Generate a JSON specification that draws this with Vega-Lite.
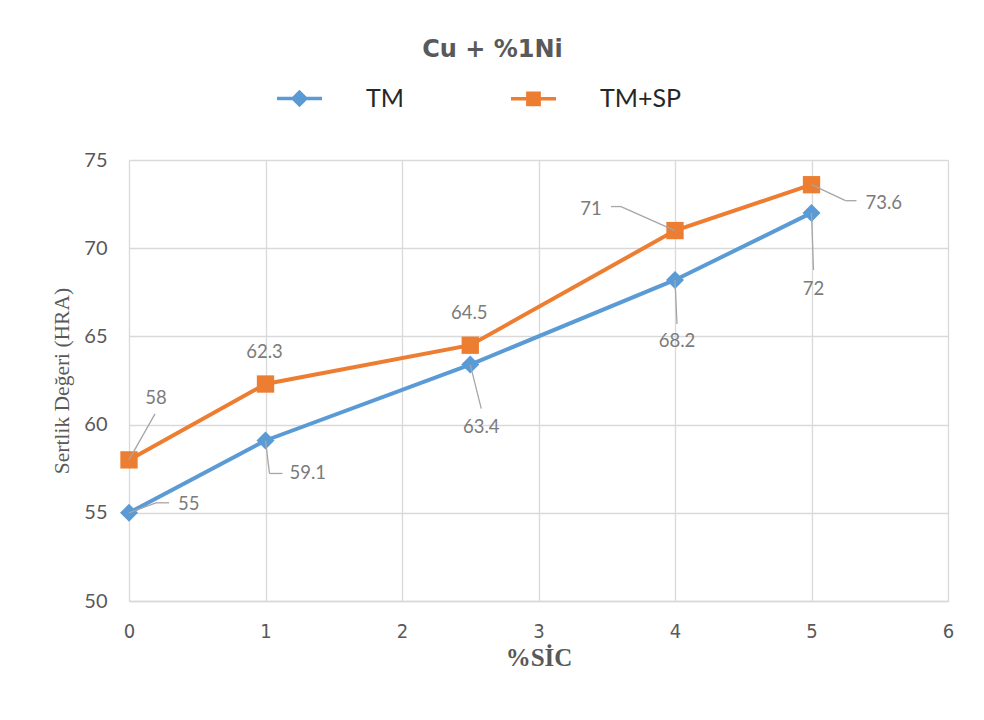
{
  "$schema": "https://vega.github.io/schema/vega-lite/v6.json",
  "width": 819,
  "height": 441,
  "autosize": "none",
  "padding": {"left": 129, "top": 160, "right": 36, "bottom": 119},
  "background": "white",
  "config": {"view": {"stroke": null}},
  "title": {"text": "Cu + %1Ni", "font": "DejaVu Sans", "fontSize": 24, "fontWeight": "bold", "color": "#595959", "anchor": "middle", "frame": "group", "dx": -46, "offset": 12},
  "data": {"values": [
    {"sic": 0, "hra": 55, "series": "TM"},
    {"sic": 1, "hra": 59.1, "series": "TM"},
    {"sic": 2.5, "hra": 63.4, "series": "TM"},
    {"sic": 4, "hra": 68.2, "series": "TM"},
    {"sic": 5, "hra": 72, "series": "TM"},
    {"sic": 0, "hra": 58, "series": "TM+SP"},
    {"sic": 1, "hra": 62.3, "series": "TM+SP"},
    {"sic": 2.5, "hra": 64.5, "series": "TM+SP"},
    {"sic": 4, "hra": 71, "series": "TM+SP"},
    {"sic": 5, "hra": 73.6, "series": "TM+SP"}
  ]},
  "encoding": {
    "x": {"field": "sic", "type": "quantitative", "scale": {"domain": [0, 6], "nice": false},
      "axis": {"values": [0, 1, 2, 3, 4, 5, 6], "title": "%SİC", "grid": true, "gridColor": "#d9d9d9", "gridWidth": 1.3, "domain": true, "domainColor": "#d9d9d9", "domainWidth": 1.3, "ticks": false, "tickSize": 0, "labelFlush": false, "labelFont": "Liberation Sans Narrow, DejaVu Sans Condensed, sans-serif", "labelFontSize": 20, "labelColor": "#595959", "labelPadding": 20, "titleFont": "Liberation Serif", "titleFontWeight": "bold", "titleFontSize": 25, "titleColor": "#595959", "titlePadding": 4}},
    "y": {"field": "hra", "type": "quantitative", "scale": {"domain": [50, 75], "nice": false, "zero": false},
      "axis": {"values": [50, 55, 60, 65, 70, 75], "title": "Sertlik Değeri (HRA)", "grid": true, "gridColor": "#d9d9d9", "gridWidth": 1.3, "domain": false, "ticks": false, "tickSize": 0, "labelFont": "Lato", "labelFontSize": 20, "labelColor": "#595959", "labelPadding": 22, "titleFont": "Liberation Serif", "titleFontWeight": "normal", "titleFontSize": 21.5, "titleColor": "#595959", "titlePadding": 10}}
  },
  "layer": [
    {"mark": {"type": "line", "strokeWidth": 4},
      "encoding": {"color": {"field": "series", "type": "nominal", "scale": {"domain": ["TM", "TM+SP"], "range": ["#5b9bd5", "#ed7d31"]},
        "legend": {"orient": "none", "legendX": 146, "legendY": -86, "direction": "horizontal", "title": null, "padding": 0, "symbolSize": 2025, "labelOffset": 42, "columnPadding": 100, "labelFont": "Lato", "labelFontSize": 25, "labelColor": "#262626", "symbolStrokeWidth": 3.5,
          "encode": {"symbols": {"update": {
            "shape": {"signal": "datum.value === 'TM' ? 'M-1,0H1M0,-0.28L0.28,0L0,0.28L-0.28,0Z' : 'M-1,0H1M-0.25,-0.25H0.25V0.25H-0.25Z'"},
            "fill": {"scale": "color", "field": "value"},
            "stroke": {"scale": "color", "field": "value"},
            "strokeWidth": {"value": 3.5}}}}}}}},
    {"transform": [{"filter": "datum.series == 'TM'"}],
      "mark": {"type": "point", "shape": "diamond", "filled": true, "size": 324, "opacity": 1},
      "encoding": {"color": {"field": "series", "type": "nominal", "legend": null}}},
    {"transform": [{"filter": "datum.series == 'TM+SP'"}],
      "mark": {"type": "point", "shape": "square", "filled": true, "size": 300, "opacity": 1},
      "encoding": {"color": {"field": "series", "type": "nominal", "legend": null}}},
    {"transform": [{"filter": "datum.series == 'TM' && datum.sic == 0"}],
      "mark": {"type": "rule", "color": "#a6a6a6", "strokeWidth": 1.3, "x2Offset": 27, "y2Offset": -10},
      "encoding": {"x2": {"field": "sic"}, "y2": {"field": "hra"}}},
    {"transform": [{"filter": "datum.series == 'TM' && datum.sic == 0"}],
      "mark": {"type": "rule", "color": "#a6a6a6", "strokeWidth": 1.3, "xOffset": 27, "yOffset": -10, "x2Offset": 40, "y2Offset": -10},
      "encoding": {"x2": {"field": "sic"}, "y2": {"field": "hra"}}},
    {"transform": [{"filter": "datum.series == 'TM' && datum.sic == 1"}],
      "mark": {"type": "rule", "color": "#a6a6a6", "strokeWidth": 1.3, "x2Offset": 4, "y2Offset": 33},
      "encoding": {"x2": {"field": "sic"}, "y2": {"field": "hra"}}},
    {"transform": [{"filter": "datum.series == 'TM' && datum.sic == 1"}],
      "mark": {"type": "rule", "color": "#a6a6a6", "strokeWidth": 1.3, "xOffset": 4, "yOffset": 33, "x2Offset": 17, "y2Offset": 33},
      "encoding": {"x2": {"field": "sic"}, "y2": {"field": "hra"}}},
    {"transform": [{"filter": "datum.series == 'TM' && datum.sic == 2.5"}],
      "mark": {"type": "rule", "color": "#a6a6a6", "strokeWidth": 1.3, "x2Offset": 11, "y2Offset": 44},
      "encoding": {"x2": {"field": "sic"}, "y2": {"field": "hra"}}},
    {"transform": [{"filter": "datum.series == 'TM' && datum.sic == 4"}],
      "mark": {"type": "rule", "color": "#a6a6a6", "strokeWidth": 1.3, "x2Offset": 2, "y2Offset": 44},
      "encoding": {"x2": {"field": "sic"}, "y2": {"field": "hra"}}},
    {"transform": [{"filter": "datum.series == 'TM' && datum.sic == 5"}],
      "mark": {"type": "rule", "color": "#a6a6a6", "strokeWidth": 1.3, "x2Offset": 2, "y2Offset": 57},
      "encoding": {"x2": {"field": "sic"}, "y2": {"field": "hra"}}},
    {"transform": [{"filter": "datum.series == 'TM+SP' && datum.sic == 0"}],
      "mark": {"type": "rule", "color": "#a6a6a6", "strokeWidth": 1.3, "x2Offset": 26, "y2Offset": -46},
      "encoding": {"x2": {"field": "sic"}, "y2": {"field": "hra"}}},
    {"transform": [{"filter": "datum.series == 'TM+SP' && datum.sic == 4"}],
      "mark": {"type": "rule", "color": "#a6a6a6", "strokeWidth": 1.3, "x2Offset": -54, "y2Offset": -24},
      "encoding": {"x2": {"field": "sic"}, "y2": {"field": "hra"}}},
    {"transform": [{"filter": "datum.series == 'TM+SP' && datum.sic == 4"}],
      "mark": {"type": "rule", "color": "#a6a6a6", "strokeWidth": 1.3, "xOffset": -54, "yOffset": -24, "x2Offset": -64, "y2Offset": -24},
      "encoding": {"x2": {"field": "sic"}, "y2": {"field": "hra"}}},
    {"transform": [{"filter": "datum.series == 'TM+SP' && datum.sic == 5"}],
      "mark": {"type": "rule", "color": "#a6a6a6", "strokeWidth": 1.3, "x2Offset": 34, "y2Offset": 16},
      "encoding": {"x2": {"field": "sic"}, "y2": {"field": "hra"}}},
    {"transform": [{"filter": "datum.series == 'TM+SP' && datum.sic == 5"}],
      "mark": {"type": "rule", "color": "#a6a6a6", "strokeWidth": 1.3, "xOffset": 34, "yOffset": 16, "x2Offset": 45, "y2Offset": 16},
      "encoding": {"x2": {"field": "sic"}, "y2": {"field": "hra"}}},
    {"transform": [{"filter": "datum.series == 'TM' && datum.sic == 0"}],
      "mark": {"type": "text", "font": "Lato", "fontSize": 18.5, "color": "#7b7b7b", "align": "left", "baseline": "middle", "dx": 49, "dy": -9},
      "encoding": {"text": {"field": "hra", "type": "quantitative"}}},
    {"transform": [{"filter": "datum.series == 'TM' && datum.sic == 1"}],
      "mark": {"type": "text", "font": "Lato", "fontSize": 18.5, "color": "#7b7b7b", "align": "left", "baseline": "middle", "dx": 24, "dy": 33},
      "encoding": {"text": {"field": "hra", "type": "quantitative"}}},
    {"transform": [{"filter": "datum.series == 'TM' && datum.sic == 2.5"}],
      "mark": {"type": "text", "font": "Lato", "fontSize": 18.5, "color": "#7b7b7b", "align": "center", "baseline": "middle", "dx": 11, "dy": 62},
      "encoding": {"text": {"field": "hra", "type": "quantitative"}}},
    {"transform": [{"filter": "datum.series == 'TM' && datum.sic == 4"}],
      "mark": {"type": "text", "font": "Lato", "fontSize": 18.5, "color": "#7b7b7b", "align": "center", "baseline": "middle", "dx": 2, "dy": 61},
      "encoding": {"text": {"field": "hra", "type": "quantitative"}}},
    {"transform": [{"filter": "datum.series == 'TM' && datum.sic == 5"}],
      "mark": {"type": "text", "font": "Lato", "fontSize": 18.5, "color": "#7b7b7b", "align": "center", "baseline": "middle", "dx": 2, "dy": 76},
      "encoding": {"text": {"field": "hra", "type": "quantitative"}}},
    {"transform": [{"filter": "datum.series == 'TM+SP' && datum.sic == 0"}],
      "mark": {"type": "text", "font": "Lato", "fontSize": 18.5, "color": "#7b7b7b", "align": "center", "baseline": "middle", "dx": 27, "dy": -62},
      "encoding": {"text": {"field": "hra", "type": "quantitative"}}},
    {"transform": [{"filter": "datum.series == 'TM+SP' && (datum.sic == 1 || datum.sic == 2.5)"}],
      "mark": {"type": "text", "font": "Lato", "fontSize": 18.5, "color": "#7b7b7b", "align": "center", "baseline": "middle", "dx": -1, "dy": -32},
      "encoding": {"text": {"field": "hra", "type": "quantitative"}}},
    {"transform": [{"filter": "datum.series == 'TM+SP' && datum.sic == 4"}],
      "mark": {"type": "text", "font": "Lato", "fontSize": 18.5, "color": "#7b7b7b", "align": "center", "baseline": "middle", "dx": -84, "dy": -22},
      "encoding": {"text": {"field": "hra", "type": "quantitative"}}},
    {"transform": [{"filter": "datum.series == 'TM+SP' && datum.sic == 5"}],
      "mark": {"type": "text", "font": "Lato", "fontSize": 18.5, "color": "#7b7b7b", "align": "left", "baseline": "middle", "dx": 54, "dy": 18},
      "encoding": {"text": {"field": "hra", "type": "quantitative"}}}
  ]
}
